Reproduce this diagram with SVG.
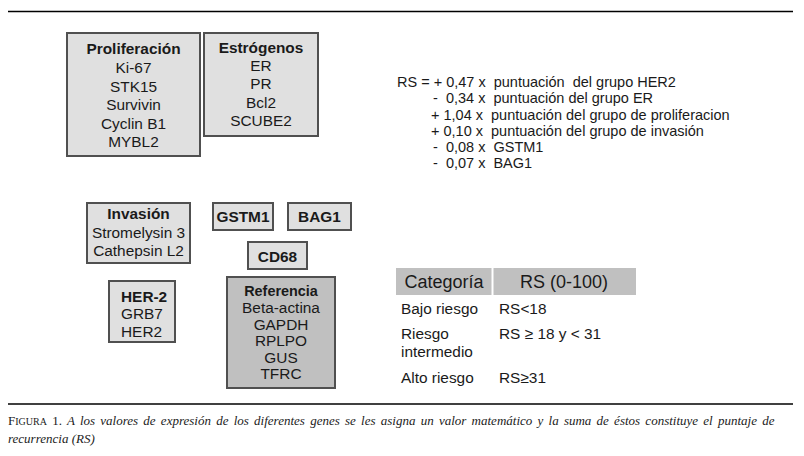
<svg xmlns="http://www.w3.org/2000/svg" width="804" height="456" viewBox="0 0 804 456">
<style>
.bx{fill:#e0e0e0;stroke:#505050;stroke-width:2}
.bd{fill:#c0c0c0;stroke:#505050;stroke-width:2}
text{font-family:"Liberation Sans",Arial,sans-serif;fill:#1a1a1a}
.t{font-size:15.4px;text-anchor:middle}
.l{font-size:15.4px}
.b{font-weight:bold}
.f{font-size:14.5px;white-space:pre}
.tb{font-size:15.4px}
.h{font-size:18px;text-anchor:middle}
.cap{font-family:"Liberation Serif","Times New Roman",serif;font-size:13px;font-style:italic;fill:#222}
</style>
<rect width="804" height="456" fill="#fff"/>
<line x1="8" y1="11.5" x2="793" y2="11.5" stroke="#000" stroke-width="1.3"/>
<line x1="8" y1="404" x2="793" y2="404" stroke="#000" stroke-width="1.3"/>
<g id="proliferacion">
<rect class="bx" x="67" y="33" width="133" height="123"/>
<text class="t b" x="133.5" y="54">Proliferación</text>
<text class="t" x="133.5" y="73">Ki-67</text>
<text class="t" x="133.5" y="92">STK15</text>
<text class="t" x="133.5" y="110">Survivin</text>
<text class="t" x="133.5" y="129">Cyclin B1</text>
<text class="t" x="133.5" y="147">MYBL2</text>
</g>
<g id="estrogenos">
<rect class="bx" x="204" y="33" width="114" height="103"/>
<text class="t b" x="261" y="53">Estrógenos</text>
<text class="t" x="261" y="71">ER</text>
<text class="t" x="261" y="89">PR</text>
<text class="t" x="261" y="108">Bcl2</text>
<text class="t" x="261" y="126">SCUBE2</text>
</g>
<g id="invasion">
<rect class="bx" x="87" y="203" width="103" height="60"/>
<text class="t b" x="138.5" y="219">Invasión</text>
<text class="t" x="138.5" y="238">Stromelysin 3</text>
<text class="t" x="138.5" y="256">Cathepsin L2</text>
</g>
<g id="gstm1">
<rect class="bx" x="213" y="203" width="60" height="27"/>
<text class="t b" x="243" y="222">GSTM1</text>
</g>
<g id="bag1">
<rect class="bx" x="288" y="203" width="63" height="27"/>
<text class="t b" x="319.5" y="222">BAG1</text>
</g>
<g id="cd68">
<rect class="bx" x="248" y="242" width="59" height="27"/>
<text class="t b" x="277.5" y="262">CD68</text>
</g>
<g id="her2">
<rect class="bx" x="109" y="281" width="66" height="61"/>
<text class="l b" x="121" y="302">HER-2</text>
<text class="l" x="121" y="319">GRB7</text>
<text class="l" x="121" y="337">HER2</text>
</g>
<g id="referencia">
<rect class="bd" x="227" y="277" width="108" height="111"/>
<text class="t b" x="281" y="296" style="font-size:14.4px">Referencia</text>
<text class="t" x="281" y="313">Beta-actina</text>
<text class="t" x="281" y="330">GAPDH</text>
<text class="t" x="281" y="346">RPLPO</text>
<text class="t" x="281" y="363">GUS</text>
<text class="t" x="281" y="379">TFRC</text>
</g>
<g id="formula">
<text class="f" x="397" y="87">RS = + 0,47 x  puntuación  del grupo HER2</text>
<text class="f" x="433" y="103">-  0,34 x  puntuación del grupo ER</text>
<text class="f" x="431" y="120">+ 1,04 x  puntuación del grupo de proliferacion</text>
<text class="f" x="431" y="136">+ 0,10 x  puntuación del grupo de invasión</text>
<text class="f" x="433" y="152">-  0,08 x  GSTM1</text>
<text class="f" x="433" y="168">-  0,07 x  BAG1</text>
</g>
<g id="tabla">
<rect x="396" y="268" width="240" height="27" fill="#c0c0c0"/>
<line x1="492.5" y1="268" x2="492.5" y2="295" stroke="#fff" stroke-width="2"/>
<text class="h" x="444" y="288">Categoría</text>
<text class="h" x="564" y="288">RS (0-100)</text>
<text class="tb" x="401" y="314">Bajo riesgo</text>
<text class="tb" x="499" y="314">RS&lt;18</text>
<text class="tb" x="401" y="339">Riesgo</text>
<text class="tb" x="401" y="357">intermedio</text>
<text class="tb" x="499" y="339">RS ≥ 18 y &lt; 31</text>
<text class="tb" x="401" y="383">Alto riesgo</text>
<text class="tb" x="499" y="383">RS≥31</text>
</g>
<g id="caption">
<text class="cap" x="8" y="425" style="word-spacing:2px"><tspan style="font-style:normal">F</tspan><tspan style="font-style:normal;font-size:10px">IGURA</tspan><tspan style="font-style:normal"> 1.</tspan> A los valores de expresión de los diferentes genes se les asigna un valor matemático y la suma de éstos constituye el puntaje de</text>
<text class="cap" x="8" y="443">recurrencia (RS)</text>
</g>
</svg>
